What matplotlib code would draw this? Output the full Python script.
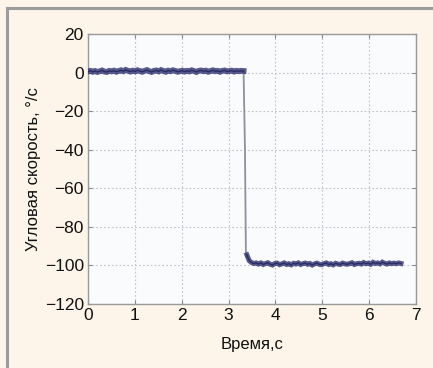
import numpy as np
import matplotlib
matplotlib.use("Agg")
import matplotlib.pyplot as plt
from matplotlib.lines import Line2D

# Data
before_vals = [0.6, 0.9, 0.4, 0.8, 0.3, 0.7, 1.1, 0.5, 0.3, 0.9, 0.6, 1.0, 0.4, 0.8,
               1.2, 0.7, 1.4, 0.9, 0.5, 1.0, 0.6, 1.2, 0.8, 0.4, 0.9, 1.3, 0.7, 0.3,
               0.9, 1.1, 0.6, 1.3, 0.8, 0.4, 1.0, 0.7, 1.2, 0.9, 0.4, 0.7, 1.0, 0.5,
               0.9, 0.6, 1.2, 0.8, 0.3, 0.9, 1.1, 0.7, 1.0, 0.4, 0.8, 1.2, 0.7, 0.9,
               0.4, 0.9, 1.1, 0.6, 0.8, 1.0, 0.5, 0.9, 0.7, 0.9, 0.8]
before_t0, before_t1 = 0.0, 3.32
drop_t = [3.32, 3.35, 3.37, 3.39]
drop_vals = [0.8, -40.0, -94.0, -95.5]
after_vals = [-94.5, -97.5, -98.5, -99.0, -98.7, -99.3, -98.7, -99.5, -99.0, -98.6,
              -99.4, -99.8, -99.0, -98.8, -99.6, -99.2, -98.7, -99.5, -99.1, -99.7,
              -98.9, -99.3, -98.7, -99.5, -99.1, -98.8, -99.4, -99.0, -99.8, -99.2,
              -98.8, -99.4, -99.6, -99.1, -98.7, -99.5, -99.1, -99.7, -98.9, -99.3,
              -99.5, -98.8, -99.2, -99.4, -99.0, -98.6, -99.5, -99.1, -98.9, -99.3,
              -98.5, -99.1, -98.8, -99.4, -98.4, -99.0, -98.7, -99.2, -98.3, -98.9,
              -99.3, -98.7, -99.1, -98.8, -99.1, -98.7, -99.0]
after_t0, after_t1 = 3.39, 6.68

x_ticks = [0, 1, 2, 3, 4, 5, 6, 7]
y_ticks = [-120, -100, -80, -60, -40, -20, 0, 20]
x_label = "Время,с"
y_label = "Угловая скорость, °/с"

plt.rcParams['font.family'] = ['Liberation Sans Narrow', 'Liberation Sans', 'DejaVu Sans']

bg = '#fdf5e9'
fig = plt.figure(figsize=(4.33, 3.68), dpi=100, facecolor=bg)
W, H = 433, 368
ax = fig.add_axes([88 / W, (H - 304) / H, (416 - 88) / W, (304 - 34) / H])
ax.set_facecolor('#fafbfd')

t_before = np.linspace(before_t0, before_t1, len(before_vals))
t_after = np.linspace(after_t0, after_t1, len(after_vals))

ax.plot(drop_t, drop_vals, color='#8e90a0', lw=1.3, zorder=2)
ax.plot(t_before, before_vals, color='#3c3e78', lw=4.2, alpha=0.85,
        solid_joinstyle='miter', zorder=3)
ax.plot(t_before, before_vals, color='#2a2b64', lw=1.0, zorder=4)
ax.plot(t_after, after_vals, color='#3c3e78', lw=3.6, alpha=0.85,
        solid_joinstyle='miter', zorder=3)
ax.plot(t_after, after_vals, color='#2a2b64', lw=1.0, zorder=4)

ax.set_xlim(0, 7)
ax.set_ylim(-120, 20)
ax.set_xticks(x_ticks)
ax.set_yticks(y_ticks)
ax.set_xticklabels([str(v) for v in x_ticks])
ax.set_yticklabels([str(v).replace('-', '\u2212') for v in y_ticks])
ax.grid(True, color='#c2c2c8', linestyle=(0, (1.5, 2.0)), linewidth=0.8)
ax.tick_params(direction='in', length=3, color='#888888', labelsize=12.5,
               labelcolor='#111111', pad=3, top=True, right=True)
for s in ax.spines.values():
    s.set_color('#9a9a9a')
    s.set_linewidth(1.0)

ax.set_xlabel(x_label, fontsize=12, color='#111111', labelpad=10)
ax.set_ylabel(y_label, fontsize=12, color='#111111', labelpad=3)

# Frame lines (top and left)
fig.add_artist(Line2D([7.5 / W, 7.5 / W], [0, 1 - 7.5 / H], transform=fig.transFigure,
                      color='#9c9c9c', lw=2.2))
fig.add_artist(Line2D([6.5 / W, 1], [1 - 7.5 / H, 1 - 7.5 / H], transform=fig.transFigure,
                      color='#9c9c9c', lw=2.2))

fig.savefig('out.png', dpi=100, facecolor=bg)
